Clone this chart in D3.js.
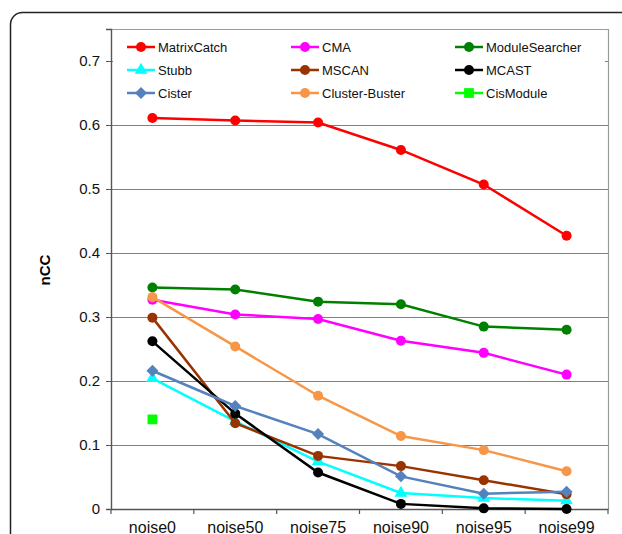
<!DOCTYPE html>
<html>
<head>
<meta charset="utf-8">
<script src="https://cdn.jsdelivr.net/npm/d3@7"></script>
<style>
  body { margin: 0; background: #fff; }
  svg { display: block; font-family: "Liberation Sans", Arial, sans-serif; }
</style>
</head>
<body>
<svg id="chart" width="622" height="534"></svg>
<script>
// categories and series
const categories = ["noise0", "noise50", "noise75", "noise90", "noise95", "noise99"];
const yTicks = [0, 0.1, 0.2, 0.3, 0.4, 0.5, 0.6, 0.7];

const matrixCatch    = [0.611, 0.607, 0.604, 0.561, 0.507, 0.427];
const cma            = [0.327, 0.304, 0.297, 0.263, 0.244, 0.210];
const moduleSearcher = [0.346, 0.343, 0.324, 0.320, 0.285, 0.280];
const stubb          = [0.204, 0.137, 0.074, 0.025, 0.017, 0.013];
const mscan          = [0.299, 0.134, 0.083, 0.067, 0.045, 0.023];
const mcast          = [0.262, 0.149, 0.057, 0.008, 0.001, 0.000];
const cister         = [0.216, 0.161, 0.117, 0.051, 0.024, 0.027];
const clusterBuster  = [0.331, 0.254, 0.177, 0.114, 0.092, 0.059];
const cisModule      = [0.140, null, null, null, null, null];

const series = [
  {name: "MatrixCatch",    values: matrixCatch,    color: "#ff0000", shape: "circle"},
  {name: "CMA",            values: cma,            color: "#ff00ff", shape: "circle"},
  {name: "ModuleSearcher", values: moduleSearcher, color: "#008000", shape: "circle"},
  {name: "Stubb",          values: stubb,          color: "#00ffff", shape: "triangle"},
  {name: "MSCAN",          values: mscan,          color: "#993300", shape: "circle"},
  {name: "MCAST",          values: mcast,          color: "#000000", shape: "circle"},
  {name: "Cister",         values: cister,         color: "#5582bd", shape: "diamond"},
  {name: "Cluster-Buster", values: clusterBuster,  color: "#f79646", shape: "circle"},
  {name: "CisModule",      values: cisModule,      color: "#00ff00", shape: "square"}
];

const svg = d3.select("#chart");
const plotL = 111, plotR = 608, plotT = 29, plotB = 509;

// outer frame (runs off the page like the original)
svg.append("rect")
  .attr("x", 10.5).attr("y", 12.5)
  .attr("width", 700).attr("height", 600)
  .attr("rx", 12)
  .attr("fill", "none").attr("stroke", "#222").attr("stroke-width", 1.5);

const x = d3.scaleBand().domain(categories).range([plotL, plotR]);
const y = d3.scaleLinear().domain([0, 0.75]).range([plotB, plotT]);

// gridlines
svg.append("g").selectAll("line")
  .data(yTicks.filter(d => d > 0))
  .enter().append("line")
  .attr("x1", plotL).attr("x2", plotR)
  .attr("y1", d => Math.round(y(d)) + 0.5).attr("y2", d => Math.round(y(d)) + 0.5)
  .attr("stroke", "#808080").attr("stroke-width", 1.2);

// plot border top/right
svg.append("path")
  .attr("d", `M${plotL},${plotT + 0.5}H${plotR + 0.5}V${plotB}`)
  .attr("fill", "none").attr("stroke", "#9a9a9a").attr("stroke-width", 1.2);

// y axis
const yAxis = svg.append("g")
  .attr("transform", `translate(${plotL},0)`)
  .call(d3.axisLeft(y).tickValues(yTicks).tickSize(5).tickPadding(6).tickFormat(d => d === 0 ? "0" : d3.format(".1f")(d)));
yAxis.select(".domain").attr("stroke", "#555").attr("stroke-width", 1.4);
yAxis.selectAll(".tick line").attr("stroke", "#555");
yAxis.selectAll("text").attr("font-size", 15).attr("fill", "#111").style("font-family", "Liberation Sans, Arial, sans-serif");

// x axis
const xAxis = svg.append("g")
  .attr("transform", `translate(0,${plotB})`)
  .call(d3.axisBottom(x).tickSize(0).tickPadding(13));
xAxis.select(".domain").attr("stroke", "#555").attr("stroke-width", 1.4);
xAxis.selectAll("text").attr("font-size", 16).attr("fill", "#111").style("font-family", "Liberation Sans, Arial, sans-serif");
// ticks at category boundaries
xAxis.selectAll(".bound")
  .data(categories.concat(["end"]))
  .enter().append("line")
  .attr("x1", (d, i) => plotL + i * x.step()).attr("x2", (d, i) => plotL + i * x.step())
  .attr("y1", 0).attr("y2", 5)
  .attr("stroke", "#555").attr("stroke-width", 1.2);

// y label
svg.append("text")
  .attr("transform", "translate(50,270) rotate(-90)")
  .attr("text-anchor", "middle")
  .attr("font-size", 15).attr("font-weight", "bold")
  .text("nCC");

// legend background covers the 0.7 gridline
svg.append("rect")
  .attr("x", plotL + 2).attr("y", plotT + 3)
  .attr("width", 492).attr("height", 73)
  .attr("fill", "#fff");

function marker(g, shape, color, cx, cy) {
  if (shape === "circle") {
    g.append("circle").attr("cx", cx).attr("cy", cy).attr("r", 5).attr("fill", color);
  } else {
    const type = shape === "triangle" ? d3.symbolTriangle : d3.symbolSquare;
    const size = shape === "triangle" ? 70 : shape === "diamond" ? 72 : 95;
    const rot = shape === "diamond" ? 45 : 0;
    g.append("path")
      .attr("d", d3.symbol().type(type).size(size))
      .attr("transform", `translate(${cx},${cy}) rotate(${rot})`)
      .attr("fill", color);
  }
}

const line = d3.line()
  .defined(d => d != null)
  .x((d, i) => x(categories[i]) + x.bandwidth() / 2)
  .y(d => y(d));

// series
series.forEach(s => {
  const g = svg.append("g");
  g.append("path")
    .datum(s.values)
    .attr("d", (vals) => line(vals))
    .attr("fill", "none")
    .attr("stroke", s.color)
    .attr("stroke-width", 2.5);
  s.values.forEach((v, i) => {
    if (v == null) return;
    marker(g, s.shape, s.color, x(categories[i]) + x.bandwidth() / 2, y(v));
  });
});

// legend
const legX = [127, 291, 455], legY = [47, 70, 93];
series.forEach((s, i) => {
  const lx = legX[i % 3], ly = legY[Math.floor(i / 3)];
  const g = svg.append("g");
  g.append("line")
    .attr("x1", lx).attr("x2", lx + 28).attr("y1", ly).attr("y2", ly)
    .attr("stroke", s.color).attr("stroke-width", 2.5);
  marker(g, s.shape, s.color, lx + 14, ly);
  g.append("text")
    .attr("x", lx + 31).attr("y", ly + 4.5)
    .attr("font-size", 13)
    .attr("fill", "#111")
    .text(s.name);
});
</script>
</body>
</html>
